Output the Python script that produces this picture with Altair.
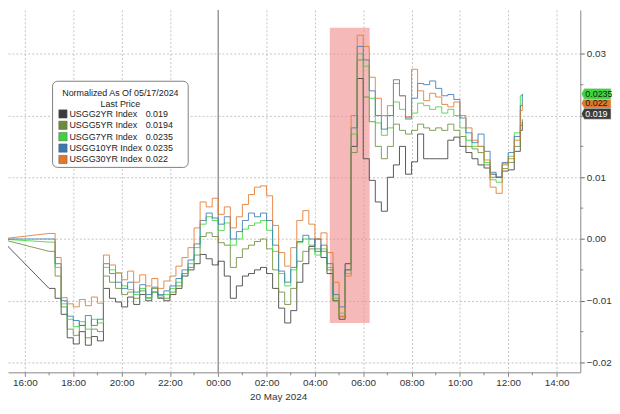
import altair as alt
import pandas as pd

# ---------------- data ----------------
series_names = ["USGG2YR Index", "USGG5YR Index", "USGG7YR Index", "USGG10YR Index", "USGG30YR Index"]
series_colors = ["#3b3b3b", "#6d8c3a", "#3cd63c", "#3a77b6", "#e0782c"]
last_price = [0.019, 0.0194, 0.0235, 0.0235, 0.022]
last_price_text = ["0.019", "0.0194", "0.0235", "0.0235", "0.022"]

# normalized change (units of 0.0001), every 15 min from 17:00 (19 May) to 12:30 (20 May)
bp_2yr = [-80, -96, -122, -160, -170, -150, -172, -158, -165, -80, -96, -102,
          -110, -94, -106, -90, -100, -86, -96, -100, -90, -80, -60, -50,
          -40, -25, -32, -42, -36, -60, -96, -76, -60, -56, -50, -46,
          -56, -80, -112, -136, -116, -70, -40, -12, 0, -30, -56, -100,
          -130, -40, 150, 260, 130, 95, 60, 45, 100, 120, 150, 105,
          125, 170, 130, 130, 130, 130, 160, 165, 150, 140, 130, 120,
          115, 105, 100, 110, 112, 142, 176]
bp_5yr = [-20, -60, -110, -146, -156, -140, -160, -146, -150, -60, -70, -80,
          -90, -86, -96, -84, -95, -80, -92, -96, -86, -76, -56, -46,
          -26, 4, 10, 4, -6, -10, -46, -30, -16, -10, -4, 0,
          -16, -50, -86, -106, -80, -36, -20, -16, -16, -20, -50, -100,
          -126, -50, 140, 290, 230, 190, 150, 130, 150, 186, 176, 170,
          176, 186, 180, 176, 180, 176, 186, 176, 166, 150, 146, 140,
          120, 100, 100, 114, 124, 150, 184]
bp_7yr = [-5, -46, -105, -130, -142, -134, -146, -130, -136, -46, -50, -55,
          -76, -82, -90, -80, -96, -86, -95, -90, -80, -70, -56, -40,
          -14, 24, 36, 30, 14, 26, -10, 0, 16, 22, 26, 30,
          14, -20, -56, -76, -50, -6, 0, -10, -26, -16, -46, -96,
          -120, -56, 170, 300, 280, 228, 188, 168, 180, 222, 210, 194,
          204, 220, 216, 210, 214, 204, 210, 200, 180, 160, 150, 150,
          124, 96, 92, 122, 134, 172, 232]
bp_10yr = [0, -40, -100, -125, -132, -140, -124, -140, -130, -40, -56, -70,
           -80, -70, -86, -74, -90, -78, -90, -84, -76, -64, -50, -34,
           -8, 30, 42, 34, 24, 36, 0, 12, 30, 42, 36, 42,
           30, -10, -52, -70, -46, -4, 6, 0, -20, -10, -40, -90,
           -110, -50, 180, 312, 290, 240, 200, 178, 200, 258, 232, 196,
           228, 252, 250, 256, 244, 232, 234, 226, 196, 172, 156, 170,
           142, 108, 100, 124, 140, 166, 216]
bp_30yr = [9, -30, -95, -105, -110, -98, -108, -94, -104, -26, -42, -55,
           -66, -52, -70, -58, -76, -64, -80, -68, -60, -44, -30, -14,
           18, 60, 52, 66, 40, 52, 18, 36, 56, 72, 84, 86,
           70, 22, -22, -44, -14, 30, 46, 24, 0, 10, -22, -70,
           -125, -60, 200, 330, 312, 262, 228, 200, 216, 252, 232, 198,
           275, 240, 224, 236, 230, 218, 214, 222, 200, 180, 160, 150,
           128, 84, 74, 120, 130, 160, 208]
series_bp = [bp_2yr, bp_5yr, bp_7yr, bp_10yr, bp_30yr]

prev_close_time = pd.Timestamp("2024-05-19 15:00")
session_times = list(pd.date_range("2024-05-19 17:00", periods=79, freq="15min"))
last_time = pd.Timestamp("2024-05-20 12:35")

shade_start = pd.Timestamp("2024-05-20 04:37")
shade_end = pd.Timestamp("2024-05-20 06:16")
shade_low, shade_high = -0.0136, 0.0342

tick_hours = [(19, 16), (19, 18), (19, 20), (19, 22), (20, 0), (20, 2), (20, 4),
              (20, 6), (20, 8), (20, 10), (20, 12), (20, 14)]
minor_hours = ["2024-05-19 17:00", "2024-05-19 19:00", "2024-05-19 21:00", "2024-05-19 23:00",
               "2024-05-20 01:00", "2024-05-20 03:00", "2024-05-20 05:00", "2024-05-20 07:00",
               "2024-05-20 09:00", "2024-05-20 11:00", "2024-05-20 13:00"]
y_ticks = [-0.02, -0.01, 0.0, 0.01, 0.02, 0.03]
y_minor = [-0.015, -0.005, 0.005, 0.015, 0.025]

# ---------------- layout ----------------
W, H = 578, 366
FONT = "Liberation Sans"
x_scale = alt.Scale(
    domain=[alt.DateTime(year=2024, month=5, date=19, hours=15, minutes=18),
            alt.DateTime(year=2024, month=5, date=20, hours=14, minutes=59)],
    nice=False)
y_scale = alt.Scale(domain=[-0.0216, 0.0371], nice=False, zero=False)

x_axis = alt.Axis(values=[alt.DateTime(year=2024, month=5, date=d, hours=h) for d, h in tick_hours],
                  format="%H:%M", labelFont=FONT, labelFontSize=10, labelColor="#333",
                  tickSize=4, tickColor="#888", domainColor="#888", labelPadding=1,
                  grid=True, gridDash=[2, 2], gridColor="#c4c4c4", labelFlush=False, title=None)
y_axis = alt.Axis(orient="right", values=y_ticks, format=".2f",
                  labelExpr="abs(datum.value - 0.02) < 0.0001 ? '' : datum.label",
                  labelFont=FONT, labelFontSize=10, labelColor="#333",
                  tickSize=4, tickColor="#666", domainColor="#888", labelPadding=2,
                  grid=True, gridDash=[2, 2], gridColor="#c4c4c4", title=None)


def X(field="t"):
    return alt.X(f"{field}:T", scale=x_scale, axis=x_axis, title=None)


def Y(field="v"):
    return alt.Y(f"{field}:Q", scale=y_scale, axis=y_axis, title=None)


layers = []

# shaded event window
shade_df = pd.DataFrame({"t": [shade_start], "t2": [shade_end], "v": [shade_low], "v2": [shade_high]})
layers.append(alt.Chart(shade_df).mark_rect(color="#f08a8a", opacity=0.6).encode(
    x=X("t"), x2="t2:T", y=Y("v"), y2="v2:Q"))

# midnight separator
mid_df = pd.DataFrame({"t": [pd.Timestamp("2024-05-20 00:00")]})
layers.append(alt.Chart(mid_df).mark_rule(color="#9a9a9a", strokeWidth=1.5).encode(x=X("t")))

# minor ticks
minor_df = pd.DataFrame({"t": pd.to_datetime(minor_hours)})
layers.append(alt.Chart(minor_df).mark_rule(color="#888").encode(
    x=X("t"), y=alt.value(H), y2=alt.value(H + 3)))
yminor_df = pd.DataFrame({"v": y_minor})
layers.append(alt.Chart(yminor_df).mark_rule(color="#888").encode(
    y=Y("v"), x=alt.value(W), x2=alt.value(W + 3)))

# series lines
for name, color, bps, lp in zip(series_names, series_colors, series_bp, last_price):
    conn_df = pd.DataFrame({"t": [prev_close_time, session_times[0]], "v": [0.0, bps[0] / 10000]})
    layers.append(alt.Chart(conn_df).mark_line(color=color, strokeWidth=1.0, opacity=0.85, clip=True).encode(
        x=X(), y=Y()))
    df = pd.DataFrame({"t": session_times + [last_time], "v": [b / 10000 for b in bps] + [lp]})
    layers.append(alt.Chart(df).mark_line(color=color, strokeWidth=1.0, opacity=0.85,
                                          interpolate="step-after", clip=True).encode(x=X(), y=Y()))

# last price tags on the right axis
tag_path = "M -1 0 L -0.8 -0.37 L 1 -0.37 L 1 0.37 L -0.8 0.37 Z"
tag_specs = [(4, "#1a1a1a", 0), (2, "#1a1a1a", 0), (0, "#ffffff", -8)]
for idx, txtcol, off in tag_specs:
    tdf = pd.DataFrame({"v": [last_price[idx]], "label": [last_price_text[idx]]})
    layers.append(alt.Chart(tdf).mark_point(shape=tag_path, size=900, filled=True, opacity=1,
                                            color=series_colors[idx], stroke="#dddddd", strokeWidth=0.6,
                                            yOffset=off).encode(
        x=alt.value(W + 16), y=Y()))
    layers.append(alt.Chart(tdf).mark_text(align="left", baseline="middle", font=FONT, fontSize=9,
                                           color=txtcol, yOffset=off).encode(
        x=alt.value(W + 5), y=Y(), text="label:N"))

# date label under the axis
date_df = pd.DataFrame({"t": [pd.Timestamp("2024-05-20 02:30")], "label": ["20 May 2024"]})
layers.append(alt.Chart(date_df).mark_text(font=FONT, fontSize=10, color="#333", baseline="middle").encode(
    x=X(), y=alt.value(H + 25), text="label:N"))

# legend box
box_df = pd.DataFrame({"a": [0]})
layers.append(alt.Chart(box_df).mark_rect(fill="white", stroke="#7f7f7f", strokeWidth=1,
                                          cornerRadius=5).encode(
    x=alt.value(45), x2=alt.value(182), y=alt.value(72), y2=alt.value(159)))
for text, yy in [("Normalized As Of 05/17/2024", 84), ("Last Price", 95)]:
    layers.append(alt.Chart(pd.DataFrame({"label": [text]})).mark_text(
        font=FONT, fontSize=9, color="#222", baseline="middle", align="center").encode(
        x=alt.value(113.5), y=alt.value(yy), text="label:N"))
for i, (name, color, lpt) in enumerate(zip(series_names, series_colors, last_price_text)):
    yy = 105 + 11.5 * i
    rdf = pd.DataFrame({"name": [name], "val": [lpt]})
    layers.append(alt.Chart(rdf).mark_square(size=70, filled=True, color=color, opacity=1,
                                             stroke="#555", strokeWidth=0.5).encode(
        x=alt.value(55.5), y=alt.value(yy)))
    layers.append(alt.Chart(rdf).mark_text(font=FONT, fontSize=9, color="#222", align="left",
                                           baseline="middle").encode(
        x=alt.value(62), y=alt.value(yy), text="name:N"))
    layers.append(alt.Chart(rdf).mark_text(font=FONT, fontSize=9, color="#222", align="left",
                                           baseline="middle").encode(
        x=alt.value(139), y=alt.value(yy), text="val:N"))

chart = alt.layer(*layers).properties(
    width=W, height=H,
    padding={"left": 0, "top": 0, "right": 32, "bottom": 32},
    autosize=alt.AutoSizeParams(type="none"),
    background="white",
).configure_view(stroke=None)

chart.save("out.html", embed_options={"renderer": "svg", "actions": False})
